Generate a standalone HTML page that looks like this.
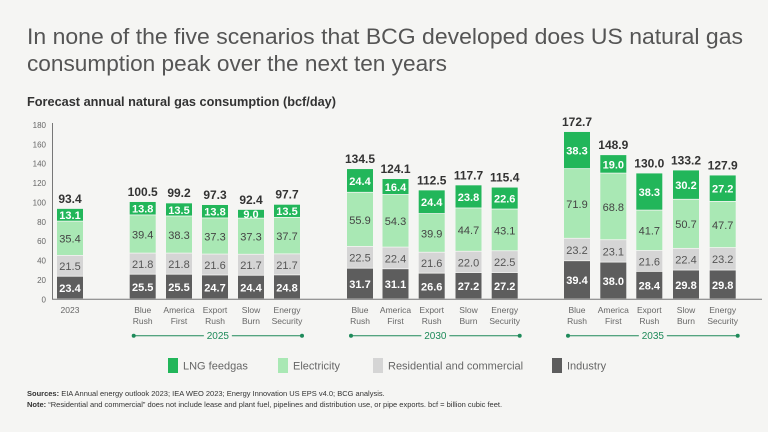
<!DOCTYPE html>
<html><head><meta charset="utf-8"><style>
html,body{margin:0;padding:0;background:#f5f5f3;}
svg{display:block;font-family:"Liberation Sans",sans-serif;}
</style></head><body>
<svg id="chart" width="768" height="432" viewBox="0 0 768 432">
<rect width="768" height="432" fill="#f5f5f3"/>
<text x="27" y="44" font-size="22" fill="#555" textLength="716" lengthAdjust="spacingAndGlyphs">In none of the five scenarios that BCG developed does US natural gas</text>
<text x="27" y="71" font-size="22" fill="#555" textLength="420" lengthAdjust="spacingAndGlyphs">consumption peak over the next ten years</text>
<text x="27" y="106" font-size="13" font-weight="bold" fill="#333" textLength="309" lengthAdjust="spacingAndGlyphs">Forecast annual natural gas consumption (bcf/day)</text>
<g id="plot"></g>
<text x="27" y="396" font-size="7.5" fill="#333"><tspan font-weight="bold">Sources:</tspan> EIA Annual energy outlook 2023; IEA WEO 2023; Energy Innovation US EPS v4.0; BCG analysis.</text>
<text x="27" y="407" font-size="7.5" fill="#333"><tspan font-weight="bold">Note:</tspan> “Residential and commercial” does not include lease and plant fuel, pipelines and distribution use, or pipe exports. bcf = billion cubic feet.</text>
</svg>
<script>
const categories = ["2023","Blue Rush","America First","Export Rush","Slow Burn","Energy Security","Blue Rush","America First","Export Rush","Slow Burn","Energy Security","Blue Rush","America First","Export Rush","Slow Burn","Energy Security"];
const industry = [23.4,25.5,25.5,24.7,24.4,24.8,31.7,31.1,26.6,27.2,27.2,39.4,38.0,28.4,29.8,29.8];
const residential = [21.5,21.8,21.8,21.6,21.7,21.7,22.5,22.4,21.6,22.0,22.5,23.2,23.1,21.6,22.4,23.2];
const electricity = [35.4,39.4,38.3,37.3,37.3,37.7,55.9,54.3,39.9,44.7,43.1,71.9,68.8,41.7,50.7,47.7];
const lng = [13.1,13.8,13.5,13.8,9.0,13.5,24.4,16.4,24.4,23.8,22.6,38.3,19.0,38.3,30.2,27.2];
const totals = [93.4,100.5,99.2,97.3,92.4,97.7,134.5,124.1,112.5,117.7,115.4,172.7,148.9,130.0,133.2,127.9];
const yTicks = [0,20,40,60,80,100,120,140,160,180];
const groupLabels = ["2025","2030","2035"];

const NS="http://www.w3.org/2000/svg";
const plot=document.getElementById('plot');
const y0=299.3, yTop=125, yMax=180;
function yScale(v){return y0-(v/yMax)*(y0-yTop);}
const centers=[70,142.7,179,215,251,287,360,395.5,431.7,468.5,504.7,577,613.3,649.3,686,722.7];
function xScale(i){return centers[i];}
const bw=26;
function mk(tag,attrs){const e=document.createElementNS(NS,tag);for(const k in attrs)e.setAttribute(k,attrs[k]);plot.appendChild(e);return e;}

yTicks.forEach(t=>{
  const e=mk('text',{x:46,y:yScale(t)+3,'font-size':8,fill:'#666','text-anchor':'end'});
  e.textContent=t;
  
  
});
const ax=mk('line',{x1:52.5,x2:52.5,y1:yTop-2,y2:y0,stroke:'#777','stroke-width':1});


const bl=mk('line',{x1:52,x2:762,y1:y0,y2:y0,stroke:'#777','stroke-width':1});



const series=[
 {vals:industry,color:'#5d5d5d',tc:'#fff',name:'industry'},
 {vals:residential,color:'#d5d5d5',tc:'#555',name:'residential'},
 {vals:electricity,color:'#a9e8b4',tc:'#444',name:'electricity'},
 {vals:lng,color:'#22b65a',tc:'#fff',name:'lng'}];
categories.forEach((c,i)=>{
  let cum=0;const cx=xScale(i);
  series.forEach(s=>{
    const v=s.vals[i];
    const yt=yScale(cum+v), yb=yScale(cum);
    const r=mk('rect',{x:cx-bw/2,y:yt,width:bw,height:Math.max(0,yb-yt-0.8),fill:s.color});
    
    
    const t=mk('text',{x:cx,y:(yt+yb)/2+4,'font-size':11,fill:s.tc,'text-anchor':'middle','font-weight':s.name==='lng'||s.name==='industry'?'bold':'normal'});
    t.textContent=v.toFixed(1);
    
    
    cum+=v;
  });
  const tt=mk('text',{x:cx,y:yScale(totals[i])-6,'font-size':12,'font-weight':'bold',fill:'#333','text-anchor':'middle'});
  tt.textContent=totals[i].toFixed(1);
  
  
  const words=c.split(' ');
  words.forEach((w,k)=>{
    const l=mk('text',{x:cx,y:313+k*11,'font-size':8.5,fill:'#666','text-anchor':'middle'});
    l.textContent=w;
    
    
  });
});
groupLabels.forEach((g,k)=>{
  const a=xScale(1+k*5)-9, b=xScale(5+k*5)+15, m=(a+b)/2, yy=335.7;
  [[a,m-14],[m+14,b]].forEach(([p,q])=>{
    const l=mk('line',{x1:p,x2:q,y1:yy,y2:yy,stroke:'#1e8a5a','stroke-width':1});
    
    
  });
  [a,b].forEach(p=>{
    const d=mk('circle',{cx:p,cy:yy,r:2,fill:'#1e8a5a'});
    
    
  });
  const t=mk('text',{x:m,y:yy+3.5,'font-size':10,fill:'#1e8a5a','text-anchor':'middle'});
  t.textContent=g;
  
  
});
const legend=[["LNG feedgas",'#22b65a',168],["Electricity",'#a9e8b4',278],["Residential and commercial",'#d5d5d5',373],["Industry",'#5d5d5d',552]];
legend.forEach(([n,c,x])=>{
  const r=mk('rect',{x:x,y:358,width:10,height:15,fill:c});
  
  
  const t=mk('text',{x:x+15,y:369.5,'font-size':11,fill:'#666'});
  t.textContent=n;
  
  
});
</script>
</body></html>
